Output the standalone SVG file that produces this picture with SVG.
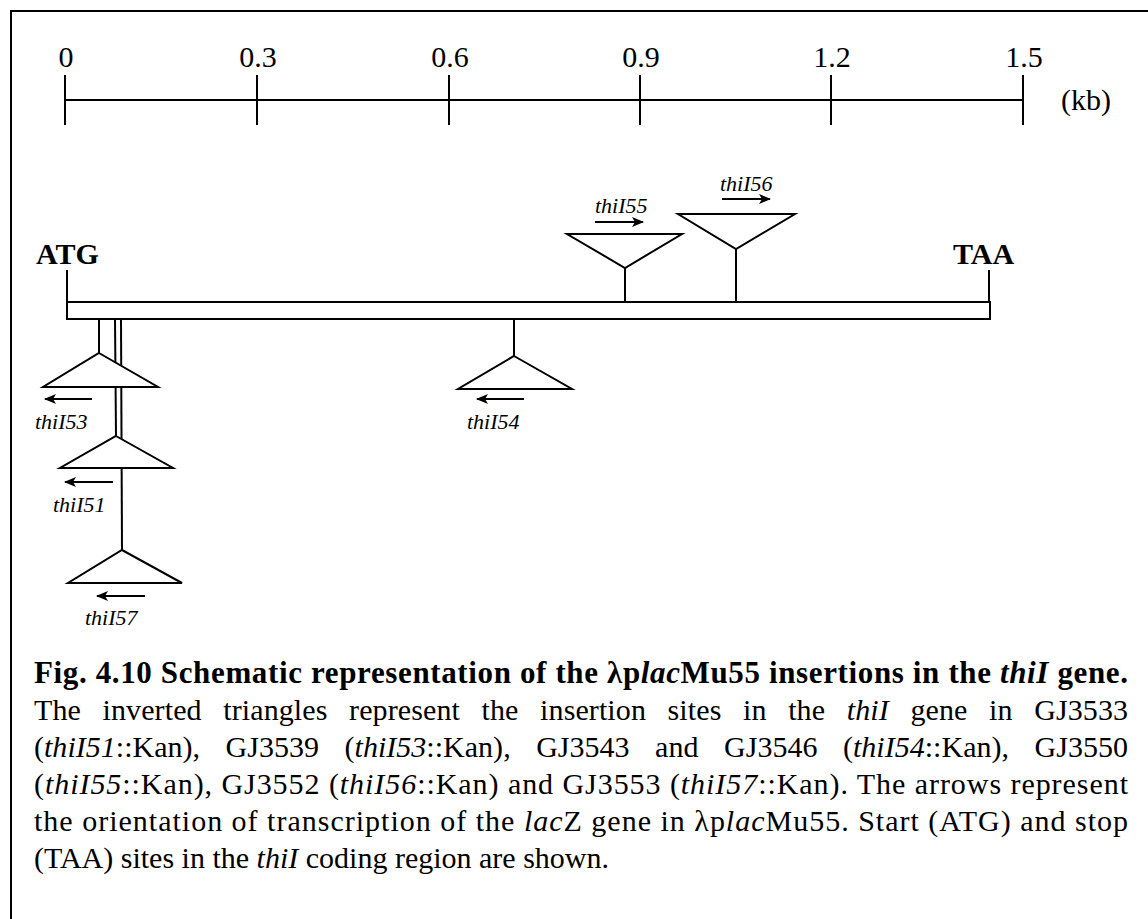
<svg xmlns="http://www.w3.org/2000/svg" width="1148" height="919" viewBox="0 0 1148 919">
<defs>
<style>
.ln{stroke:#000;stroke-width:2;fill:none}
.tri{stroke:#000;stroke-width:2;fill:#fff;stroke-linejoin:miter}
.arr{stroke:#000;stroke-width:2;fill:none;marker-end:url(#ah)}
.num{font-family:"Liberation Serif","Times New Roman",serif;font-size:30px;fill:#000}
.site{font-family:"Liberation Serif","Times New Roman",serif;font-size:30px;font-weight:bold;fill:#000}
.lab{font-family:"Liberation Serif","Times New Roman",serif;font-size:22px;font-style:italic;fill:#000}
.cap{font-family:"Liberation Serif","Times New Roman",serif;font-size:30px;fill:#000}
.capb{font-family:"Liberation Serif","Times New Roman",serif;font-size:31px;font-weight:bold;fill:#000}
.i{font-style:italic}
</style>
<marker id="ah" viewBox="0 0 12 10" refX="11" refY="5" markerWidth="12" markerHeight="10" markerUnits="userSpaceOnUse" orient="auto">
<path d="M0,0 L12,5 L0,10 L3,5 Z" fill="#000"/>
</marker>
</defs>
<rect width="1148" height="919" fill="#fff"/>

<g id="frame">
<line class="ln" x1="10" y1="11" x2="1148" y2="11"/>
<line class="ln" x1="11" y1="10" x2="11" y2="919"/>
</g>

<g id="scale">
<line class="ln" x1="65" y1="100" x2="1023" y2="100"/>
<line class="ln" x1="65" y1="75" x2="65" y2="125"/>
<line class="ln" x1="257" y1="75" x2="257" y2="125"/>
<line class="ln" x1="449" y1="75" x2="449" y2="125"/>
<line class="ln" x1="640" y1="75" x2="640" y2="125"/>
<line class="ln" x1="831" y1="75" x2="831" y2="125"/>
<line class="ln" x1="1023" y1="75" x2="1023" y2="125"/>
<text class="num" x="66" y="67" text-anchor="middle">0</text>
<text class="num" x="258" y="67" text-anchor="middle">0.3</text>
<text class="num" x="450" y="67" text-anchor="middle">0.6</text>
<text class="num" x="641" y="67" text-anchor="middle">0.9</text>
<text class="num" x="832" y="67" text-anchor="middle">1.2</text>
<text class="num" x="1024" y="67" text-anchor="middle">1.5</text>
<text class="num" x="1061" y="110">(kb)</text>
</g>

<g id="gene">
<rect x="67" y="302" width="923" height="17" fill="#fff" stroke="#000" stroke-width="2"/>
<line class="ln" x1="67" y1="270" x2="67" y2="302"/>
<line class="ln" x1="989" y1="270" x2="989" y2="302"/>
<text class="site" x="36" y="264">ATG</text>
<text class="site" x="953" y="264">TAA</text>
</g>

<g id="connectors">
<line class="ln" x1="625" y1="268" x2="625" y2="302"/>
<line class="ln" x1="736" y1="249" x2="736" y2="302"/>
<line class="ln" x1="99" y1="319" x2="99" y2="353"/>
<line class="ln" x1="115" y1="319" x2="116" y2="436"/>
<line class="ln" x1="121" y1="319" x2="122" y2="550"/>
<line class="ln" x1="514" y1="319" x2="514" y2="356"/>
</g>

<g id="thiI55">
<polygon class="tri" points="567,234 682,234 625,268"/>
<line class="arr" x1="595" y1="222" x2="643" y2="222"/>
<text class="lab" x="595" y="213">thiI55</text>
</g>

<g id="thiI56">
<polygon class="tri" points="678,214 795,214 736,249"/>
<line class="arr" x1="722" y1="199" x2="770" y2="199"/>
<text class="lab" x="720" y="191">thiI56</text>
</g>

<g id="thiI53">
<polygon class="tri" points="99,353 158,387 43,387"/>
<line class="arr" x1="92" y1="399" x2="45" y2="399"/>
<text class="lab" x="35" y="429">thiI53</text>
</g>

<g id="thiI51">
<polygon class="tri" points="116,436 173,468 60,468"/>
<line class="arr" x1="113" y1="482" x2="65" y2="482"/>
<text class="lab" x="53" y="512">thiI51</text>
</g>

<g id="thiI57">
<polygon class="tri" points="122,550 182,583 68,583"/>
<line class="arr" x1="145" y1="596" x2="97" y2="596"/>
<text class="lab" x="85" y="625">thiI57</text>
</g>

<g id="thiI54">
<polygon class="tri" points="514,356 572,389 458,389"/>
<line class="arr" x1="524" y1="399" x2="477" y2="399"/>
<text class="lab" x="467" y="429">thiI54</text>
</g>

<g id="caption">
<text class="capb" x="34" y="683" textLength="1094" lengthAdjust="spacing">Fig. 4.10 Schematic representation of the λp<tspan class="i">lac</tspan>Mu55 insertions in the <tspan class="i">thiI</tspan> gene.</text>
<text class="cap" x="34" y="720" word-spacing="14" textLength="1094" lengthAdjust="spacing">The inverted triangles represent the insertion sites in the <tspan class="i">thiI</tspan> gene in GJ3533</text>
<text class="cap" x="34" y="757" word-spacing="18" textLength="1094" lengthAdjust="spacing">(<tspan class="i">thiI51</tspan>::Kan), GJ3539 (<tspan class="i">thiI53</tspan>::Kan), GJ3543 and GJ3546 (<tspan class="i">thiI54</tspan>::Kan), GJ3550</text>
<text class="cap" x="34" y="794" textLength="1094" lengthAdjust="spacing">(<tspan class="i">thiI55</tspan>::Kan), GJ3552 (<tspan class="i">thiI56</tspan>::Kan) and GJ3553 (<tspan class="i">thiI57</tspan>::Kan). The arrows represent</text>
<text class="cap" x="34" y="831" textLength="1094" lengthAdjust="spacing">the orientation of transcription of the <tspan class="i">lac</tspan>Z gene in λp<tspan class="i">lac</tspan>Mu55. Start (ATG) and stop</text>
<text class="cap" x="34" y="868">(TAA) sites in the <tspan class="i">thiI</tspan> coding region are shown.</text>
</g>
</svg>
